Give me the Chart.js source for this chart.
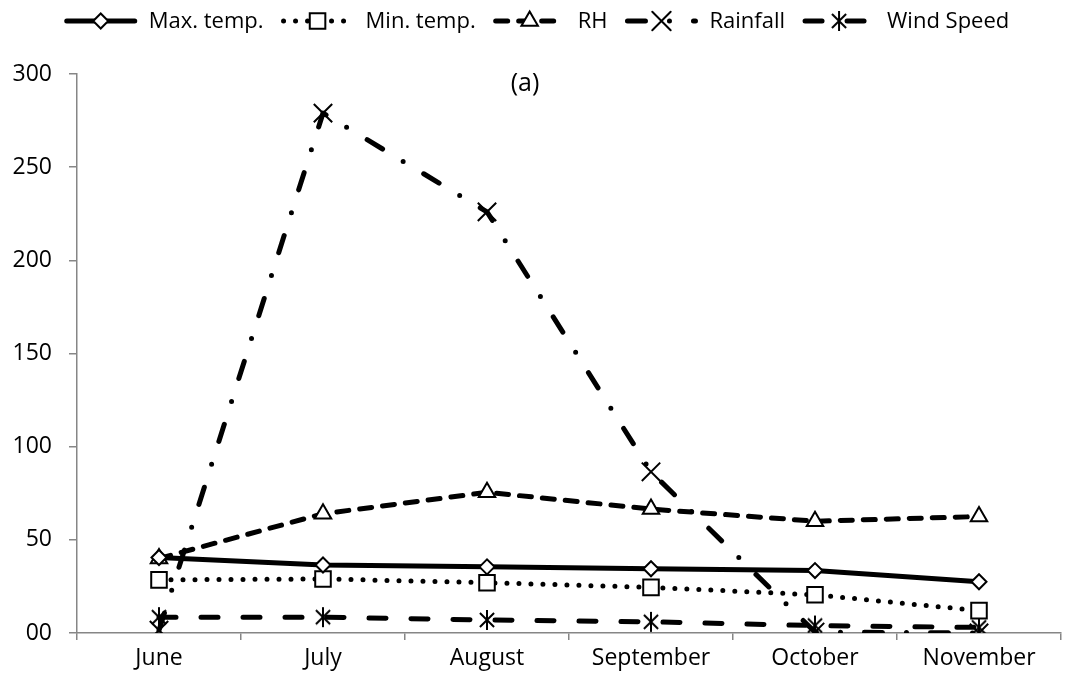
<!DOCTYPE html>
<html>
<head>
<meta charset="utf-8">
<script src="https://cdn.jsdelivr.net/npm/chart.js@4"></script>
<style>
  html, body { margin: 0; padding: 0; background: #fff; }
  #wrap { width: 1076px; height: 690px; }
</style>
</head>
<body>
<div id="wrap"><canvas id="weatherChart" width="1076" height="690"></canvas></div>
<script>
// Monthly weather data
const months = ['June', 'July', 'August', 'September', 'October', 'November'];
const maxTemp = [40.5, 36.5, 35.5, 34.5, 33.5, 27.5];
const minTemp = [28.5, 29, 27, 24.5, 20.5, 12];
const relHumidity = [40, 64, 75.5, 66.5, 60, 62.5];
const rainfall = [1.5, 279, 226, 86.5, 0.5, 0];
const windSpeed = [8.5, 8.5, 7, 6, 4, 3];
const yTicks = [0, 50, 100, 150, 200, 250, 300];
const panelTitle = '(a)';

const FONT = '"Open Sans", sans-serif';

// Asterisk marker (vertical bar + X)
function makeAsterisk(size, lw) {
    const c = document.createElement('canvas');
    c.width = size;
    c.height = size;
    const g = c.getContext('2d');
    const h = size / 2;
    const r = h - 1;
    const d = r * Math.SQRT1_2;
    g.strokeStyle = '#000';
    g.lineWidth = lw;
    g.beginPath();
    g.moveTo(h, h - r); g.lineTo(h, h + r);
    g.moveTo(h - d, h - d); g.lineTo(h + d, h + d);
    g.moveTo(h - d, h + d); g.lineTo(h + d, h - d);
    g.stroke();
    return c;
}
const asterisk = makeAsterisk(22, 2);

// Legend drawn with line samples and markers
const lineLegend = {
    id: 'lineLegend',
    afterDraw(chart) {
        const ctx = chart.ctx;
        const sample = 68, gapText = 14, gapItem = 20;
        const y = 21;
        ctx.save();
        ctx.font = '22px ' + FONT;
        const items = chart.data.datasets.map(ds => ({ ds, w: ctx.measureText(ds.label).width }));
        const total = items.reduce((s, it) => s + sample + gapText + it.w, 0) + gapItem * (items.length - 1);
        let x = (chart.width - total) / 2;
        items.forEach(it => {
            const ds = it.ds;
            ctx.strokeStyle = '#000';
            ctx.lineWidth = ds.borderWidth;
            ctx.lineCap = ds.borderCapStyle || 'butt';
            ctx.setLineDash(ds.borderDash || []);
            ctx.beginPath();
            ctx.moveTo(x, y);
            ctx.lineTo(x + sample, y);
            ctx.stroke();
            ctx.setLineDash([]);
            ctx.fillStyle = '#fff';
            ctx.lineWidth = ds.pointBorderWidth;
            Chart.helpers.drawPoint(ctx, {
                pointStyle: ds.pointStyle,
                radius: ds.pointRadius,
                borderWidth: ds.pointBorderWidth,
                rotation: 0
            }, x + sample / 2, y);
            ctx.fillStyle = '#000';
            ctx.textAlign = 'left';
            ctx.textBaseline = 'middle';
            ctx.fillText(ds.label, x + sample + gapText, y + 1);
            x += sample + gapText + it.w + gapItem;
        });
        ctx.restore();
    }
};

// Panel label inside the plot
const panelLabel = {
    id: 'panelLabel',
    afterDraw(chart) {
        const { ctx, chartArea } = chart;
        ctx.save();
        ctx.font = '25px ' + FONT;
        ctx.fillStyle = '#000';
        ctx.textAlign = 'center';
        ctx.textBaseline = 'middle';
        ctx.fillText(panelTitle, chartArea.left + 448, chartArea.top + 10);
        ctx.restore();
    }
};

function series(label, data, style) {
    return Object.assign({
        label,
        data,
        borderColor: '#000',
        backgroundColor: '#fff',
        pointBackgroundColor: '#fff',
        pointBorderColor: '#000',
        fill: false,
        tension: 0,
        borderCapStyle: 'round',
        borderJoinStyle: 'round'
    }, style);
}

const datasets = [
    series('Max. temp.', maxTemp, {
        borderWidth: 5, pointStyle: 'rectRot', pointRadius: 7.5, pointBorderWidth: 2
    }),
    series('Min. temp.', minTemp, {
        borderWidth: 5, borderDash: [0, 12], pointStyle: 'rect', pointRadius: 11, pointBorderWidth: 2
    }),
    series('RH', relHumidity, {
        borderWidth: 5, borderDash: [12, 11], pointStyle: 'triangle', pointRadius: 9.5, pointBorderWidth: 2
    }),
    series('Rainfall', rainfall, {
        borderWidth: 5, borderDash: [18, 24, 0, 24], pointStyle: 'crossRot', pointRadius: 13, pointBorderWidth: 2
    }),
    series('Wind Speed', windSpeed, {
        borderWidth: 5, borderDash: [17, 25], pointStyle: asterisk, pointRadius: 11, pointBorderWidth: 2
    })
];

const ctx = document.getElementById('weatherChart').getContext('2d');
const weatherChart = new Chart(ctx, {
    type: 'line',
    data: { labels: months, datasets },
    options: {
        responsive: false,
        animation: false,
        layout: { padding: { top: 74, right: 3, left: 0, bottom: 0 } },
        plugins: {
            legend: { display: false },
            title: { display: false },
            tooltip: { enabled: false }
        },
        scales: {
            x: {
                offset: true,
                grid: { offset: true, drawOnChartArea: false, tickLength: 7, color: '#868686', lineWidth: 1.5 },
                border: { color: '#868686', width: 1.5 },
                ticks: { color: '#000', font: { family: FONT, size: 23 }, padding: 5, maxRotation: 0 },
                afterFit(scale) { scale.height = 57; }
            },
            y: {
                min: yTicks[0],
                max: yTicks[yTicks.length - 1],
                afterBuildTicks(scale) { scale.ticks = yTicks.map(v => ({ value: v })); },
                grid: { drawOnChartArea: false, tickLength: 8, color: '#868686', lineWidth: 1.5 },
                border: { color: '#868686', width: 1.5 },
                ticks: {
                    color: '#000',
                    font: { family: FONT, size: 23 },
                    padding: 17,
                    callback: value => value === 0 ? '00' : String(value)
                },
                afterFit(scale) { scale.width = 77; }
            }
        }
    },
    plugins: [lineLegend, panelLabel]
});
</script>
</body>
</html>
